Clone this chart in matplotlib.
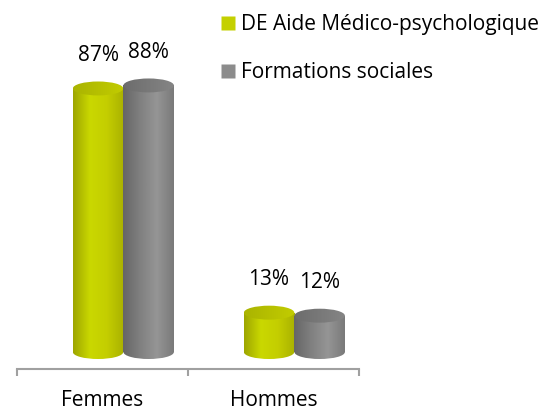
import matplotlib
matplotlib.use('Agg')

import numpy as np
import matplotlib.pyplot as plt
from matplotlib.patches import Rectangle, Ellipse
from matplotlib.lines import Line2D

# Données
categories = ['Femmes', 'Hommes']
series_names = ['DE Aide Médico-psychologique', 'Formations sociales']
amp_values = [87, 13]
social_values = [88, 12]
value_labels_amp = ['87%', '13%']
value_labels_social = ['88%', '12%']

plt.rcParams['font.family'] = ['Open Sans', 'DejaVu Sans']

fig = plt.figure(figsize=(5.52, 4.12), dpi=100)
ax = fig.add_axes([17 / 552, 43 / 412, 342 / 552, 369 / 412])
ax.set_xlim(-0.5, 1.5)
ax.set_ylim(-5.6, 116.2)

bar_w = 0.295
offsets = [-0.026, 0.27]
ell_h = 4.6  # hauteur de l'ellipse en unités de données

# couleurs: (bord gauche, centre, bord droit), dessus
styles = [
    {'body': ['#9ea600', '#cad800', '#c4ce00', '#aab200'], 'top': ['#aab400', '#c2cc00'], 'legend': '#c4d000'},
    {'body': ['#666666', '#808080', '#959595', '#7a7a7a'], 'top': ['#6c6c6c', '#858585'], 'legend': '#8c8c8c'},
]


def gradient(stops, n=64):
    rgb = np.array([matplotlib.colors.to_rgb(c) for c in stops])
    xs = np.linspace(0, 1, len(stops))
    t = np.linspace(0, 1, n)
    img = np.stack([np.interp(t, xs, rgb[:, k]) for k in range(3)], axis=-1)
    return img[np.newaxis, :, :]


def cylinder(x, h, st, z):
    left = x - bar_w / 2
    body = Rectangle((left, 0), bar_w, h, facecolor='none', edgecolor='none')
    base = Ellipse((x, 0), bar_w, ell_h, facecolor='none', edgecolor='none')
    top = Ellipse((x, h), bar_w, ell_h, facecolor='none', edgecolor='none')
    for p in (body, base, top):
        ax.add_patch(p)
    ext = [left, left + bar_w, -ell_h, h + ell_h]
    for p in (body, base):
        im = ax.imshow(gradient(st['body']), extent=ext, aspect='auto', zorder=z, origin='lower')
        im.set_clip_path(p)
    im = ax.imshow(gradient(st['top']), extent=ext, aspect='auto', zorder=z + 0.5, origin='lower')
    im.set_clip_path(top)


xpos = np.arange(len(categories))
for i, vals, labels in [(0, amp_values, value_labels_amp), (1, social_values, value_labels_social)]:
    for j, (v, lab) in enumerate(zip(vals, labels)):
        x = xpos[j] + offsets[i]
        cylinder(x, v, styles[i], 2 + i)
        ax.annotate(lab, (x, v), xytext=(0, 33), textcoords='offset pixels',
                    ha='center', va='center', fontsize=15, color='#000000')

ax.set_xlim(-0.5, 1.5)
ax.set_ylim(-5.6, 116.2)

for s in ['top', 'right', 'left']:
    ax.spines[s].set_visible(False)
ax.spines['bottom'].set_color('#a0a0a0')
ax.spines['bottom'].set_linewidth(1.5)
ax.set_yticks([])
ax.set_xticks(xpos)
ax.set_xticklabels(categories, fontsize=15)
ax.tick_params(axis='x', which='major', length=0, pad=15)
ax.set_xticks([-0.5, 0.5, 1.5], minor=True)
ax.tick_params(axis='x', which='minor', length=5, width=1.5, color='#a0a0a0', direction='out')

handles = [Line2D([], [], marker='s', linestyle='none', markersize=10,
                  markerfacecolor=styles[k]['legend'], markeredgecolor='none') for k in range(2)]
fig.legend(handles, series_names, loc='upper left', bbox_to_anchor=(212 / 552, 1 - 6 / 412),
           frameon=False, fontsize=15, labelspacing=1.3, handlelength=0.7, handletextpad=0.3,
           borderaxespad=0)

fig.savefig('out.png', dpi=100)
